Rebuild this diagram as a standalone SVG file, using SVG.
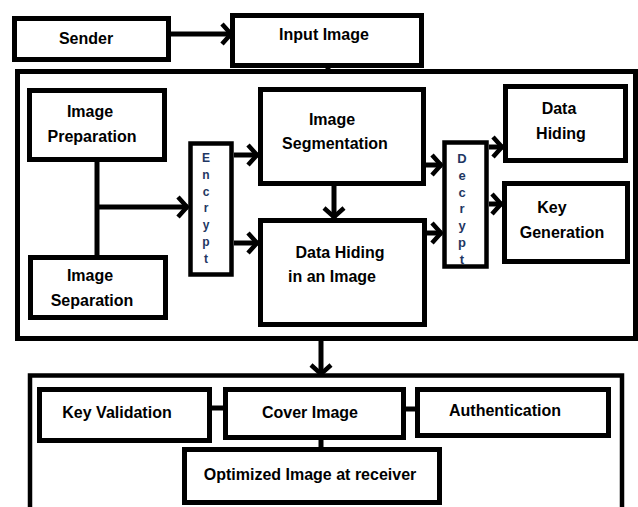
<svg xmlns="http://www.w3.org/2000/svg" width="638" height="507" viewBox="0 0 638 507">
<style>
.box{fill:#fff;stroke:#000;stroke-width:5}
.outer{fill:none;stroke:#000;stroke-width:5}
.ln{fill:none;stroke:#000;stroke-width:5}
.t{font-family:"Liberation Sans",Arial,sans-serif;font-weight:bold;font-size:16px;fill:#000;text-anchor:middle}
.v{font-family:"Liberation Sans",Arial,sans-serif;font-weight:bold;fill:#1f3763;text-anchor:middle}
</style>
<defs>
<marker id="ah" markerUnits="userSpaceOnUse" markerWidth="18" markerHeight="28" viewBox="-15 -14 18 28" refX="0" refY="0" orient="auto" overflow="visible">
<path d="M-10,-10 L-1,0 L-10,10" fill="none" stroke="#000" stroke-width="4.5"/>
</marker>
</defs>
<rect class="outer" x="17.5" y="71.5" width="618" height="267"/>
<rect class="outer" x="30" y="375.5" width="592" height="150" style="stroke-width:4.5"/>
<g id="connectors">
<line class="ln" x1="171" y1="34" x2="232" y2="34" marker-end="url(#ah)"/>
<line class="ln" x1="328" y1="65" x2="328" y2="71"/>
<polyline class="ln" points="97,162 97,255"/>
<line class="ln" x1="97" y1="207" x2="188" y2="207" marker-end="url(#ah)"/>
<line class="ln" x1="234" y1="155" x2="258" y2="155" marker-end="url(#ah)"/>
<line class="ln" x1="234" y1="243" x2="258" y2="243" marker-end="url(#ah)"/>
<line class="ln" x1="334" y1="186" x2="334" y2="218" marker-end="url(#ah)"/>
<line class="ln" x1="426" y1="165" x2="442" y2="165" marker-end="url(#ah)"/>
<line class="ln" x1="427" y1="233" x2="442" y2="233" marker-end="url(#ah)"/>
<line class="ln" x1="489" y1="147" x2="503" y2="147" marker-end="url(#ah)"/>
<line class="ln" x1="489" y1="204" x2="502" y2="204" marker-end="url(#ah)"/>
<line class="ln" x1="321" y1="339" x2="321" y2="375" marker-end="url(#ah)"/>
<line class="ln" x1="212" y1="408" x2="223" y2="408"/>
<line class="ln" x1="406" y1="409" x2="415" y2="409"/>
<line class="ln" x1="321" y1="438" x2="321" y2="447"/>
</g>
<g id="sender"><rect class="box" x="14.5" y="18.5" width="154" height="41"/><text class="t" x="86" y="44">Sender</text></g>
<g id="input-image"><rect class="box" x="232.5" y="15.5" width="189" height="50"/><text class="t" x="324" y="40">Input Image</text></g>
<g id="image-preparation"><rect class="box" x="29.5" y="90.5" width="135" height="69"/><text class="t" x="90" y="117">Image</text><text class="t" x="92" y="142">Preparation</text></g>
<g id="image-separation"><rect class="box" x="30.5" y="257.5" width="135" height="60"/><text class="t" x="90" y="281">Image</text><text class="t" x="92" y="306">Separation</text></g>
<g id="encrypt"><rect class="box" x="190.5" y="143.5" width="41" height="131" style="stroke-width:4.5"/>
<text class="v" font-size="12" x="206" y="162">E</text><text class="v" font-size="12" x="206" y="179">n</text><text class="v" font-size="12" x="206" y="196">c</text><text class="v" font-size="12" x="206" y="212">r</text><text class="v" font-size="12" x="206" y="229">y</text><text class="v" font-size="12" x="206" y="246">p</text><text class="v" font-size="12" x="206" y="263">t</text></g>
<g id="image-segmentation"><rect class="box" x="260.5" y="89.5" width="163" height="94"/><text class="t" x="332" y="125">Image</text><text class="t" x="335" y="149">Segmentation</text></g>
<g id="data-hiding-image"><rect class="box" x="260.5" y="220.5" width="164" height="104"/><text class="t" x="340" y="258">Data Hiding</text><text class="t" x="332" y="282">in an Image</text></g>
<g id="decrypt"><rect class="box" x="444.5" y="142.5" width="42" height="124" style="stroke-width:4.5"/>
<text class="v" font-size="13" x="462" y="163">D</text><text class="v" font-size="13" x="462" y="180">e</text><text class="v" font-size="13" x="462" y="197">c</text><text class="v" font-size="13" x="462" y="213">r</text><text class="v" font-size="13" x="462" y="230">y</text><text class="v" font-size="13" x="462" y="247">p</text><text class="v" font-size="13" x="462" y="264">t</text></g>
<g id="data-hiding"><rect class="box" x="505.5" y="86.5" width="120" height="74"/><text class="t" x="559" y="114">Data</text><text class="t" x="561" y="139">Hiding</text></g>
<g id="key-generation"><rect class="box" x="504.5" y="183.5" width="123" height="78"/><text class="t" x="552" y="213">Key</text><text class="t" x="562" y="238">Generation</text></g>
<g id="key-validation"><rect class="box" x="39.5" y="389.5" width="170" height="51"/><text class="t" x="117" y="418">Key Validation</text></g>
<g id="cover-image"><rect class="box" x="225.5" y="389.5" width="178" height="48"/><text class="t" x="310" y="418">Cover Image</text></g>
<g id="authentication"><rect class="box" x="417.5" y="389.5" width="191" height="46"/><text class="t" x="505" y="416">Authentication</text></g>
<g id="optimized-image"><rect class="box" x="184.5" y="449.5" width="255" height="53"/><text class="t" x="310" y="480">Optimized Image at receiver</text></g>
</svg>
